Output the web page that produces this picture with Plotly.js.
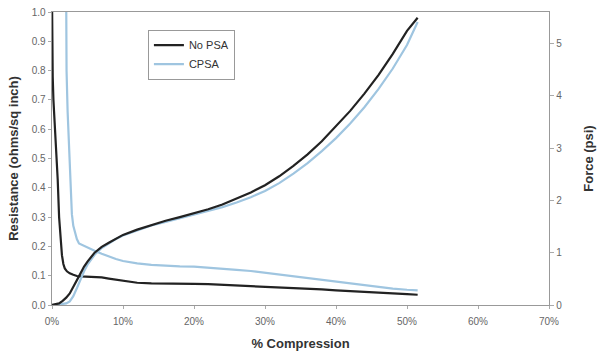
<!DOCTYPE html>
<html>
<head>
<meta charset="utf-8">
<script src="https://cdn.plot.ly/plotly-3.0.1.min.js"></script>
<style>html,body{margin:0;padding:0;background:#fff;}#chart{width:600px;height:351px;}</style>
</head>
<body>
<div id="chart"></div>
<script>
// % compression and resistance (ohms/sq inch), No PSA
const resNoPsaX = [0, 0, 0.1, 0.2, 0.3, 0.4, 0.6, 0.8, 1.0, 1.2, 1.4, 1.6, 1.8, 2.1, 2.5, 3, 3.5, 4, 5, 6, 7, 8, 9, 10, 11, 12, 14, 16, 18, 20, 22, 24, 26, 28, 30, 32, 34, 36, 38, 40, 42, 44, 46, 48, 50, 51.5];
const resNoPsaY = [1.05, 0.86, 0.78, 0.70, 0.66, 0.61, 0.52, 0.43, 0.30, 0.22, 0.17, 0.14, 0.125, 0.115, 0.108, 0.103, 0.099, 0.098, 0.097, 0.097, 0.094, 0.090, 0.086, 0.082, 0.079, 0.076, 0.074, 0.074, 0.073, 0.072, 0.071, 0.069, 0.067, 0.064, 0.061, 0.059, 0.057, 0.055, 0.053, 0.050, 0.048, 0.046, 0.043, 0.040, 0.037, 0.035];
// resistance, CPSA
const resCpsaX = [2.0, 2.0, 2.05, 2.2, 2.4, 2.6, 2.8, 3.0, 3.2, 3.5, 3.8, 4.2, 5, 6, 7, 8, 9, 10, 11, 12, 14, 16, 18, 20, 22, 24, 26, 28, 30, 32, 34, 36, 38, 40, 42, 44, 46, 48, 50, 51.5];
const resCpsaY = [1.05, 0.86, 0.80, 0.66, 0.52, 0.40, 0.31, 0.27, 0.25, 0.225, 0.21, 0.205, 0.195, 0.185, 0.175, 0.165, 0.157, 0.150, 0.145, 0.142, 0.137, 0.134, 0.132, 0.131, 0.128, 0.124, 0.120, 0.116, 0.110, 0.104, 0.098, 0.092, 0.085, 0.078, 0.072, 0.066, 0.061, 0.056, 0.052, 0.050];
// force (psi)
const forceX = [0, 0.5, 1, 1.5, 2, 2.5, 3, 3.5, 4, 4.5, 5, 6, 7, 8, 9, 10, 12, 14, 16, 18, 20, 22, 24, 26, 28, 30, 32, 34, 36, 38, 40, 42, 44, 46, 48, 50, 51.5];
const forceNoPsa = [0, 0.01, 0.03, 0.08, 0.14, 0.22, 0.34, 0.48, 0.60, 0.73, 0.83, 1.00, 1.11, 1.19, 1.27, 1.34, 1.44, 1.53, 1.61, 1.68, 1.75, 1.83, 1.92, 2.03, 2.15, 2.29, 2.46, 2.66, 2.88, 3.13, 3.41, 3.71, 4.04, 4.40, 4.80, 5.24, 5.49];
const forceCpsa = [0, 0, 0, 0.02, 0.03, 0.07, 0.17, 0.32, 0.49, 0.64, 0.77, 0.96, 1.09, 1.18, 1.26, 1.33, 1.43, 1.52, 1.59, 1.66, 1.72, 1.79, 1.87, 1.96, 2.06, 2.18, 2.33, 2.51, 2.71, 2.94, 3.19, 3.47, 3.78, 4.13, 4.52, 4.97, 5.41];
const seriesNames = ['No PSA', 'CPSA'];

const BLACK = '#222222', BLUE = '#9fc5e0';
const traces = [
  {x: resCpsaX, y: resCpsaY, name: seriesNames[1], mode: 'lines', line: {color: BLUE, width: 2.2}, legendrank: 2},
  {x: forceX, y: forceCpsa, name: seriesNames[1], mode: 'lines', yaxis: 'y2', line: {color: BLUE, width: 2.2}, showlegend: false},
  {x: resNoPsaX, y: resNoPsaY, name: seriesNames[0], mode: 'lines', line: {color: BLACK, width: 2.2}, legendrank: 1},
  {x: forceX, y: forceNoPsa, name: seriesNames[0], mode: 'lines', yaxis: 'y2', line: {color: BLACK, width: 2.2}, showlegend: false}
];
const tickFont = {family: 'Liberation Sans, Arial, sans-serif', size: 10, color: '#666'};
const titleFont = {family: 'Liberation Sans, Arial, sans-serif', size: 13, color: '#333', weight: 'bold'};
const layout = {
  width: 600, height: 351,
  margin: {l: 52, r: 51, t: 12, b: 46},
  paper_bgcolor: '#fff', plot_bgcolor: '#fff',
  font: {family: 'Liberation Sans, Arial, sans-serif'},
  xaxis: {range: [0, 70], dtick: 10, ticksuffix: '%', showgrid: false, zeroline: false,
    showline: true, linecolor: '#999', linewidth: 1.3, mirror: true, ticks: 'outside', ticklen: 3, tickcolor: '#aaa',
    ticklabelstandoff: 4,
    tickfont: tickFont, title: {text: '% Compression', font: titleFont, standoff: 14}},
  yaxis: {range: [0, 1], dtick: 0.1, tickformat: '.1f', showgrid: false, zeroline: false,
    showline: true, linecolor: '#999', linewidth: 1.3, ticks: 'outside', ticklen: 3, tickcolor: '#aaa',
    tickfont: tickFont, title: {text: 'Resistance (ohms/sq inch)', font: titleFont, standoff: 10}},
  yaxis2: {range: [0, 5.6], dtick: 1, overlaying: 'y', side: 'right', showgrid: false, zeroline: false,
    showline: true, linecolor: '#999', linewidth: 1.3, ticks: 'outside', ticklen: 4, tickcolor: '#aaa',
    tickfont: tickFont, title: {text: 'Force (psi)', font: titleFont, standoff: 22}},
  legend: {x: 0.193, y: 0.94, xanchor: 'left', yanchor: 'top', bgcolor: '#fff', bordercolor: '#999', borderwidth: 1,
    font: {family: 'Liberation Sans, Arial, sans-serif', size: 11, color: '#333'}, tracegroupgap: 0, itemwidth: 30},
  showlegend: true
};
Plotly.newPlot('chart', traces, layout, {displayModeBar: false, staticPlot: true});
</script>
</body>
</html>
